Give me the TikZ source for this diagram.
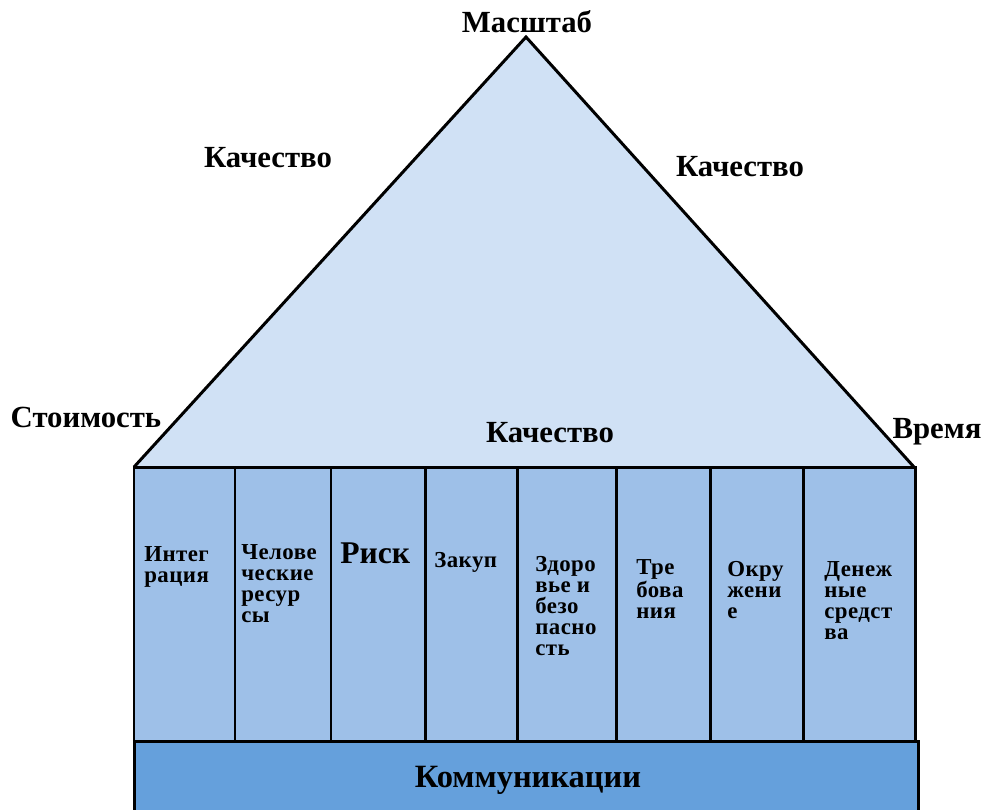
\documentclass[tikz,border=0pt]{standalone}
\usepackage{fontspec}
\setmainfont{Liberation Serif}
\definecolor{roofblue}{HTML}{D0E1F5}
\definecolor{colblue}{HTML}{9EC0E8}
\definecolor{baseblue}{HTML}{65A0DC}
\tikzset{
    lbl/.style={font=\fontsize{17.5}{19}\selectfont\bfseries},
    coltext/.style={font=\fontsize{13}{12}\selectfont\bfseries\addfontfeatures{LetterSpace=2}, anchor=north west, align=left, inner sep=0pt},
    roofline/.style={draw=black, line width=1.7pt, line join=miter},
    pillar/.style={draw=black, line width=1.7pt, fill=colblue},
    basebox/.style={draw=black, line width=1.9pt, fill=baseblue},
}

\begin{document}
\begin{tikzpicture}[x=0.02cm, y=-0.02cm]
    \useasboundingbox (0,0) rectangle (983,809);
    % roof
    \fill[roofblue] (134,467) -- (526,37) -- (914,467) -- cycle;
    \draw[roofline] (134,467) -- (526,37) -- (914,467);
    % pillars
    \foreach \a/\b in {134/235, 235/331, 331/425, 425/517, 517/616, 616/710, 710/803, 803/915}
        \draw[pillar] (\a,467) rectangle (\b,741);
    % base
    \draw[basebox] (135,812) -- (135,742) -- (918,742) -- (918,812);
    \fill[baseblue] (136,743) rectangle (917,812);

    \node[lbl] (scale) at (527,22) {Масштаб};
    \node[lbl] (qleft) at (268,158) {Качество};
    \node[lbl] (qright) at (740,167) {Качество};
    \node[lbl] (cost) at (86,417) {Стоимость};
    \node[lbl] (qmid) at (550,433) {Качество};
    \node[lbl] (time) at (937,432) {Время};
    \node[lbl, font=\fontsize{18.5}{20}\selectfont\bfseries] (comm) at (528,780) {Коммуникации};

    \node[coltext] (integ) at (144,546) {Интег\\рация};
    \node[coltext] (hr) at (241,544) {Челове\\ческие\\ресур\\сы};
    \node[coltext, font=\fontsize{18}{20}\selectfont\bfseries] (risk) at (340,542) {Риск};
    \node[coltext] (proc) at (434,552) {Закуп};
    \node[coltext] (hse) at (535,556) {Здоро\\вье и\\безо\\пасно\\сть};
    \node[coltext] (req) at (636,559) {Тре\\бова\\ния};
    \node[coltext] (env) at (727,561) {Окру\\жени\\е};
    \node[coltext] (cash) at (824,561) {Денеж\\ные\\средст\\ва};
\end{tikzpicture}
\end{document}
